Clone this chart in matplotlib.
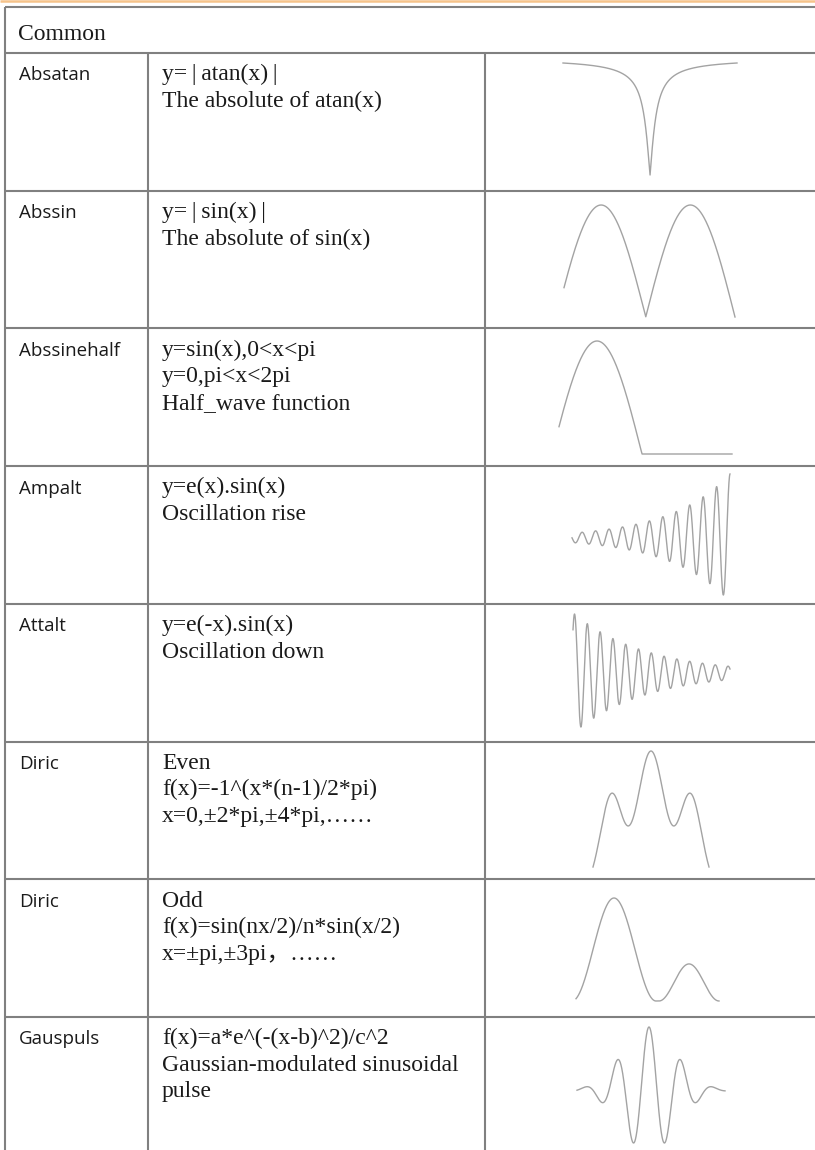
import numpy as np
import matplotlib
matplotlib.use("Agg")
import matplotlib.pyplot as plt

# ---------------- data ----------------
section_title = "Common"
labels = ["Absatan", "Abssin", "Abssinehalf", "Ampalt", "Attalt",
          "Diric", "Diric", "Gauspuls"]
descriptions = [
    ["y=\u2009|\u2009atan(x)\u2009|", "The absolute of atan(x)"],
    ["y=\u2009|\u2009sin(x)\u2009|", "The absolute of sin(x)"],
    ["y=sin(x),0<x<pi", "y=0,pi<x<2pi", "Half_wave function"],
    ["y=e(x).sin(x)", "Oscillation rise"],
    ["y=e(-x).sin(x)", "Oscillation down"],
    ["Even", "f(x)=-1^(x*(n-1)/2*pi)", "x=0,±2*pi,±4*pi,……"],
    ["Odd", "f(x)=sin(nx/2)/n*sin(x/2)", "x=±pi,±3pi，……"],
    ["f(x)=a*e^(-(x-b)^2)/c^2", "Gaussian-modulated sinusoidal", "pulse"],
]

# function parameters for the thumbnail waveforms
absatan_range = [-15.0, 15.0]
abssin_range = [0.265, 2 * np.pi]
halfwave_range = [0.244, 2 * np.pi]
ampalt_growth, ampalt_cycles = 2.6, 11.75
attalt_decay, attalt_cycles, attalt_phase = 2.2, 12.27, 0.8
diric_even_params = [-23.3, 139.3, 0.33, 95.3, 0.68, 0.27]   # base, hc, sc, hs, d, ss
diric_odd_params = [38.0, 1.0, 42.0, 113.0, 0.36, 30.0]       # c1, h1, w1, c2, h2, w2
diric_odd_range = [0.0, 143.0]
gauspuls_sigma, gauspuls_period = 37.0, 32.0
gauspuls_range = [-72.0, 76.0]


def raised_cos(x, c, h, w):
    d = np.clip((x - c) / w, -1, 1)
    return h * np.cos(np.pi * d / 2) ** 2


def curve(kind):
    n = 1500
    if kind == 0:
        x = np.linspace(*absatan_range, n)
        return x, np.abs(np.arctan(x))
    if kind == 1:
        x = np.linspace(*abssin_range, n)
        return x, np.abs(np.sin(x))
    if kind == 2:
        x = np.linspace(*halfwave_range, n)
        return x, np.where(x < np.pi, np.sin(x), 0.0)
    if kind == 3:
        t = np.linspace(0, 1, n)
        return t, -np.exp(ampalt_growth * t) * np.sin(2 * np.pi * ampalt_cycles * t)
    if kind == 4:
        t = np.linspace(0, 1, n)
        return t, np.exp(-attalt_decay * t) * np.sin(2 * np.pi * attalt_cycles * t + attalt_phase)
    if kind == 5:
        b, hc, sc, hs, d, ss = diric_even_params
        u = np.linspace(-1, 1, n)
        y = b + hc * np.exp(-(u / sc) ** 2) + hs * (np.exp(-((u - d) / ss) ** 2) +
                                                   np.exp(-((u + d) / ss) ** 2))
        return u, y
    if kind == 6:
        c1, h1, w1, c2, h2, w2 = diric_odd_params
        x = np.linspace(*diric_odd_range, n)
        y = raised_cos(x, c1, h1, w1) + raised_cos(x, c2, h2, w2)
        return x, y
    x = np.linspace(*gauspuls_range, n)
    y = np.exp(-(x / gauspuls_sigma) ** 2) * np.cos(2 * np.pi * x / gauspuls_period)
    return x, y


# ---------------- layout ----------------
W, H = 815, 1150
fig = plt.figure(figsize=(W / 100, H / 100), dpi=100)
ax = fig.add_axes([0, 0, 1, 1])
ax.set_xlim(0, W)
ax.set_ylim(H, 0)
ax.axis("off")

grid_c = "#808080"
lw = 1.5
row_tops = [53 + i * 137.7 for i in range(len(labels))]
x_left, x_c1, x_c2 = 5, 148, 485

# orange rule at top
ax.plot([0, W], [0.9, 0.9], color="#f5c38a", lw=1.8, solid_capstyle="butt")
# table frame
ax.plot([x_left, W], [7, 7], color=grid_c, lw=lw, solid_capstyle="butt")
ax.plot([x_left, x_left], [7, H], color=grid_c, lw=lw, solid_capstyle="butt")
for yt in row_tops:
    ax.plot([x_left, W], [yt, yt], color=grid_c, lw=lw, solid_capstyle="butt")
for xv in (x_c1, x_c2):
    ax.plot([xv, xv], [row_tops[0], H], color=grid_c, lw=lw, solid_capstyle="butt")

serif = ["Liberation Serif", "DejaVu Sans", "Noto Sans CJK SC"]
sans = ["Open Sans", "DejaVu Sans"]

ax.text(18, 39.5, section_title, family=serif, fontsize=17, color="#1a1a1a", va="baseline")

for lab, desc, yt in zip(labels, descriptions, row_tops):
    base = yt + 27.4
    ax.text(19, base, lab, family=sans, fontsize=13.5, color="#1a1a1a", va="baseline")
    for k, line in enumerate(desc):
        ax.text(162, base + k * 26.6, line, family=serif, fontsize=17,
                color="#1a1a1a", va="baseline")

# thumbnails: pixel boxes (left, right, top, bottom)
boxes = [
    (563, 737, 63, 175),
    (564, 735, 205, 317),
    (559, 732, 341, 454),
    (572, 730, 474, 595),
    (573, 730, 614, 727),
    (593, 709, 751, 867),
    (576, 719, 898, 1001),
    (577, 725, 1027, 1143),
]
for i, (l, r, t, b) in enumerate(boxes):
    a = fig.add_axes([l / W, 1 - b / H, (r - l) / W, (b - t) / H])
    x, y = curve(i)
    a.plot(x, y, color="#a3a3a3", lw=1.0, clip_on=False)
    a.set_xlim(x.min(), x.max())
    a.set_ylim(y.min(), y.max())
    a.axis("off")

fig.savefig("out.png", dpi=100)
